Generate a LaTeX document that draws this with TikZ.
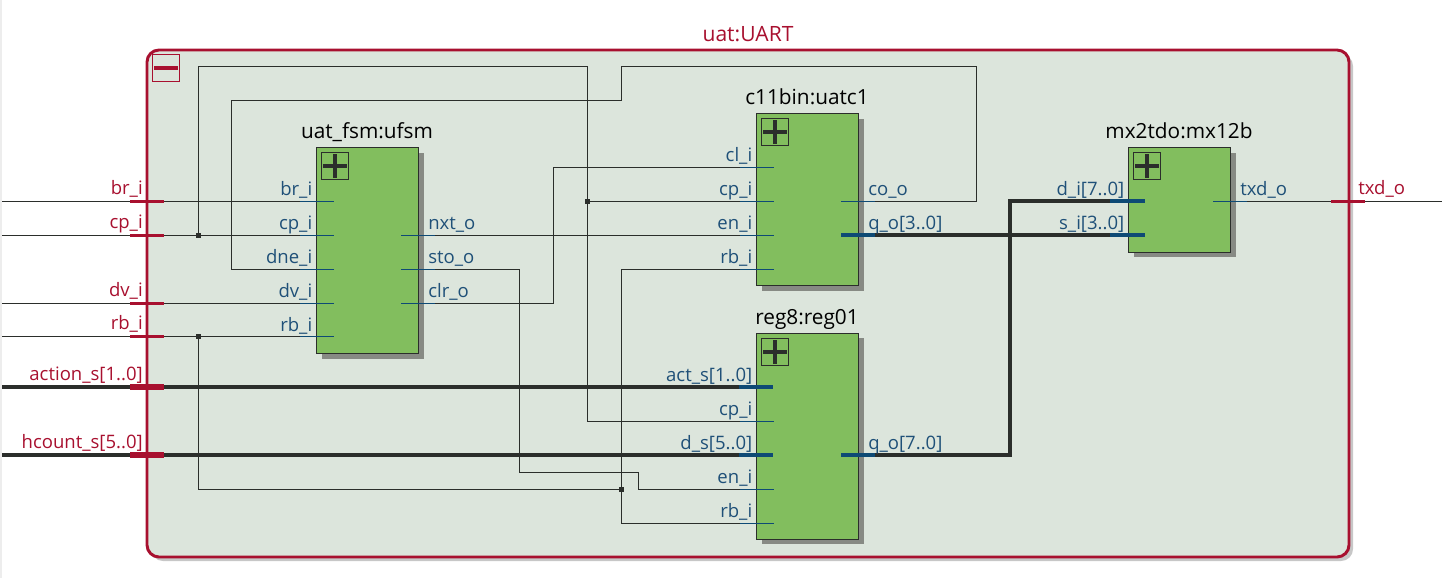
\documentclass[tikz,border=0pt]{standalone}
\usepackage{fontspec}
\setmainfont{Open Sans}
\definecolor{rd}{HTML}{A8102F}
\definecolor{bl}{HTML}{0E4A75}
\definecolor{lb}{HTML}{1F5078}
\definecolor{wr}{HTML}{2B2E2B}
\definecolor{pane}{HTML}{DCE5DC}
\definecolor{grn}{HTML}{82BE5E}
\definecolor{shd}{HTML}{878A84}
\tikzset{
  x=0.75pt,y=-0.75pt,
  wire/.style={draw=wr,line width=0.75pt},
  bus/.style={draw=wr,line width=3pt},
  dot/.style={fill=wr,minimum size=3.6pt,inner sep=0pt,shape=rectangle},
  block/.style={draw=wr,fill=grn,line width=0.75pt,inner sep=0pt,shape=rectangle},
  shade/.style={fill=shd,inner sep=0pt,shape=rectangle},
  pm/.style={draw=wr,line width=0.75pt,inner sep=0pt,minimum size=20.25pt,outer sep=0pt,shape=rectangle},
  title/.style={font=\fontsize{15.6}{18}\selectfont,text=black,anchor=base,inner sep=0pt},
  plab/.style={font=\fontsize{13.9}{16}\selectfont,text=lb,anchor=base east,inner sep=0pt},
  olab/.style={font=\fontsize{13.9}{16}\selectfont,text=lb,anchor=base west,inner sep=0pt},
  rlab/.style={font=\fontsize{13.9}{16}\selectfont,text=rd,anchor=base east,inner sep=0pt},
  rstub/.style={draw=rd,line width=2pt},
  rbus/.style={draw=rd,line width=4pt},
  bstub/.style={draw=bl,line width=0.6pt},
  bbus/.style={draw=bl,line width=3pt},
}
\begin{document}
\begin{tikzpicture}
\useasboundingbox (0,0) rectangle (1442,578);
\fill[black!7] (0,0) rectangle (2,578);
% outer pane
\fill[black!22,rounded corners=9pt] (151,54) rectangle (1353,561);
\node[draw=rd,fill=pane,line width=2.2pt,rounded corners=9pt,inner sep=0pt,minimum width=901.5pt,minimum height=380.25pt,shape=rectangle] (pane) at (748,303.5) {};
\node[font=\fontsize{15.8}{18}\selectfont,text=rd,anchor=base,inner sep=0pt] (paneT) at (748,41) {uat:UART};
\node[pm,draw=rd] (minus) at (166,68) {};
\draw[rd,line width=3pt] (154,68) -- (178,68);

% block shadows and blocks
\node[shade,minimum width=76.5pt,minimum height=154.5pt] (s1) at (372.5,255.5) {};
\node[shade,minimum width=76.5pt,minimum height=129pt] (s2) at (812.5,204.5) {};
\node[shade,minimum width=76.5pt,minimum height=154.5pt] (s3) at (812.5,441.2) {};
\node[shade,minimum width=76.5pt,minimum height=78.7pt] (s4) at (1184.5,205) {};
\node[block,minimum width=76.5pt,minimum height=154.5pt] (ufsm) at (367.5,250.5) {};
\node[block,minimum width=76.5pt,minimum height=129pt] (uatc) at (807.5,199.5) {};
\node[block,minimum width=76.5pt,minimum height=154.5pt] (reg) at (807.5,436.2) {};
\node[block,minimum width=76.5pt,minimum height=78.7pt] (mx) at (1179.5,200) {};
\node[title] (tufsm) at (367,138) {uat\_fsm:ufsm};
\node[title] (tuatc) at (807,104) {c11bin:uatc1};
\node[title] (treg) at (807,324) {reg8:reg01};
\node[title] (tmx) at (1179,138) {mx2tdo:mx12b};
\foreach \n/\x/\y in {pa/335/166,pb/775/132,pc/775/352,pd/1147/166}{
  \node[pm] (\n) at (\x,\y) {};
  \draw[wr,line width=3pt] (\x-12,\y) -- (\x+12,\y) (\x,\y-12) -- (\x,\y+12);
}

% coordinates
\coordinate (Wbr) at (2,201.5);   \coordinate (Wcp) at (2,235.5); \coordinate (Wdv) at (2,303.5);
\coordinate (Wrb) at (2,336.5); \coordinate (Wac) at (2,387);   \coordinate (Whc) at (2,455);
\coordinate (Etx) at (1442,201.5);
\coordinate (ubr) at (334,201.5); \coordinate (ucp) at (334,235.5); \coordinate (udn) at (334,269.5);
\coordinate (udv) at (334,303.5); \coordinate (urb) at (334,336.5);
\coordinate (unx) at (401,235.5); \coordinate (ust) at (401,269.5); \coordinate (ucl) at (401,303.5);
\coordinate (ccl) at (774,167.5); \coordinate (ccp) at (774,201.5); \coordinate (cen) at (774,235.5); \coordinate (crb) at (774,269.5);
\coordinate (cco) at (841,201.5); \coordinate (cq) at (841,235);
\coordinate (rac) at (773,387); \coordinate (rcp) at (774,421.5); \coordinate (rds) at (773,455);
\coordinate (ren) at (774,489.5); \coordinate (rrb) at (774,523.5); \coordinate (rq) at (841,455);
\coordinate (md) at (1145,201); \coordinate (ms) at (1145,235); \coordinate (mt) at (1213,201.5);
\node[dot] (j1) at (198.5,235.5) {};
\node[dot] (j2) at (198.5,336.5) {};
\node[dot] (j3) at (587.5,201.5) {};
\node[dot] (j4) at (621.5,489.5) {};

% thin wires
\draw[wire] (Wbr) -- (ubr);
\draw[wire] (Wcp) -- (ucp);
\draw[wire] (Wdv) -- (udv);
\draw[wire] (Wrb) -- (urb);
\draw[wire] (j1.center) -- (198.5,66.5) -- (587.5,66.5) -- (587.5,421.5) -- (rcp);
\draw[wire] (j3.center) -- (ccp);
\draw[wire] (udn) -- (231.5,269.5) -- (231.5,100.5) -- (621.5,100.5) -- (621.5,66.5) -- (976.5,66.5) -- (976.5,201.5) -- (cco);
\draw[wire] (unx) -- (cen);
\draw[wire] (ust) -- (519.5,269.5) -- (519.5,472.5) -- (638.5,472.5) -- (638.5,489.5) -- (ren);
\draw[wire] (ucl) -- (553.5,303.5) -- (553.5,167.5) -- (ccl);
\draw[wire] (j2.center) -- (198.5,489.5) -- (j4.center);
\draw[wire] (crb) -- (621.5,269.5) -- (621.5,523.5) -- (rrb);
\draw[wire] (mt) -- (Etx);
% buses
\draw[bus] (Wac) -- (rac);
\draw[bus] (Whc) -- (rds);
\draw[bus] (cq) -- (ms);
\draw[bus] (rq) -- (1010,455) -- (1010,201) -- (md);

% boundary port stubs
\draw[rstub] (130,201.5) -- (164,201.5);
\draw[rstub] (130,235.5) -- (164,235.5);
\draw[rstub] (130,303.5) -- (164,303.5);
\draw[rstub] (130,336.5) -- (164,336.5);
\draw[rbus] (130,387) -- (164,387);
\draw[rbus] (130,455) -- (164,455);
\draw[rstub] (1331,201.5) -- (1365,201.5);
% block port stubs
\foreach \y in {201.5,235.5,269.5,303.5,336.5}{\draw[bstub] (300,\y) -- (334,\y);}
\foreach \y in {235.5,269.5,303.5}{\draw[bstub] (401,\y) -- (435,\y);}
\foreach \y in {167.5,201.5,235.5,269.5,421.5,489.5,523.5}{\draw[bstub] (740,\y) -- (774,\y);}
\draw[bstub] (841,201.5) -- (875,201.5);
\draw[bstub] (1213,201.5) -- (1247,201.5);
\draw[bbus] (739,387) -- (773,387);
\draw[bbus] (739,455) -- (773,455);
\draw[bbus] (841,235) -- (875,235);
\draw[bbus] (841,455) -- (875,455);
\draw[bbus] (1110,201) -- (1145,201);
\draw[bbus] (1110,235) -- (1145,235);

% boundary labels
\node[rlab] (lbr) at (143,194) {br\_i};
\node[rlab] (lcp) at (143,228) {cp\_i};
\node[rlab] (ldv) at (143,296) {dv\_i};
\node[rlab] (lrb) at (143,329) {rb\_i};
\node[rlab] (lac) at (143,380) {action\_s[1..0]};
\node[rlab] (lhc) at (143,448) {hcount\_s[5..0]};
\node[rlab,anchor=base west] (ltx) at (1358,194) {txd\_o};
% ufsm labels
\node[plab] (a1) at (312.5,195) {br\_i};
\node[plab] (a2) at (312.5,229) {cp\_i};
\node[plab] (a3) at (312.5,263) {dne\_i};
\node[plab] (a4) at (312.5,297) {dv\_i};
\node[plab] (a5) at (312.5,331) {rb\_i};
\node[olab] (a6) at (428,229) {nxt\_o};
\node[olab] (a7) at (428,263) {sto\_o};
\node[olab] (a8) at (428,297) {clr\_o};
% uatc labels
\node[plab] (b1) at (752.5,161) {cl\_i};
\node[plab] (b2) at (752.5,195) {cp\_i};
\node[plab] (b3) at (752.5,229) {en\_i};
\node[plab] (b4) at (752.5,263) {rb\_i};
\node[olab] (b5) at (868,195) {co\_o};
\node[olab] (b6) at (868,229) {q\_o[3..0]};
% reg labels
\node[plab] (c1) at (752.5,381) {act\_s[1..0]};
\node[plab] (c2) at (752.5,415) {cp\_i};
\node[plab] (c3) at (752.5,449) {d\_s[5..0]};
\node[plab] (c4) at (752.5,483) {en\_i};
\node[plab] (c5) at (752.5,517) {rb\_i};
\node[olab] (c6) at (868,449) {q\_o[7..0]};
% mx labels
\node[plab] (d1) at (1124.5,195) {d\_i[7..0]};
\node[plab] (d2) at (1124.5,229) {s\_i[3..0]};
\node[olab] (d3) at (1240,195) {txd\_o};
\end{tikzpicture}
\end{document}
